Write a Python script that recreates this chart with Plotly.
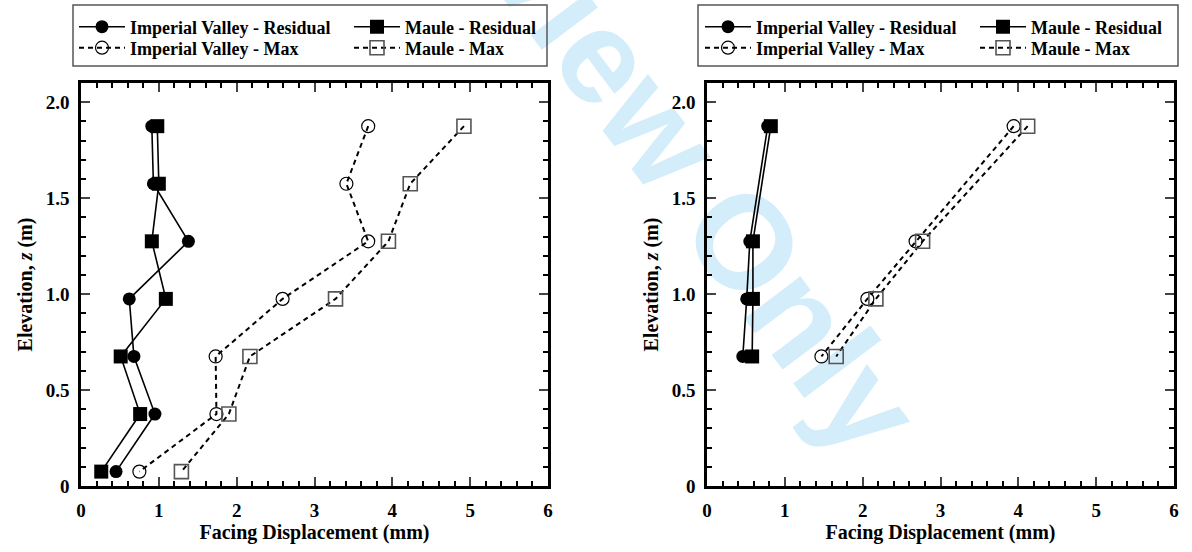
import plotly.graph_objects as go

# ---- data -------------------------------------------------------------
elev_a = [1.875, 1.575, 1.275, 0.975, 0.675, 0.375, 0.075]
iv_res_a = [0.91, 0.93, 1.38, 0.62, 0.68, 0.95, 0.45]
maule_res_a = [0.98, 1.00, 0.91, 1.09, 0.51, 0.76, 0.26]
iv_max_a = [3.69, 3.41, 3.69, 2.59, 1.73, 1.74, 0.75]
maule_max_a = [4.92, 4.23, 3.95, 3.27, 2.17, 1.90, 1.29]

elev_b = [1.875, 1.275, 0.975, 0.675]
iv_res_b = [0.78, 0.55, 0.51, 0.46]
maule_res_b = [0.82, 0.59, 0.59, 0.58]
iv_max_b = [3.94, 2.68, 2.06, 1.47]
maule_max_b = [4.12, 2.77, 2.17, 1.66]

x_ticks = [0, 1, 2, 3, 4, 5, 6]
y_ticks = [0, 0.5, 1.0, 1.5, 2.0]
y_tick_text = ["0", "0.5", "1.0", "1.5", "2.0"]

names = ["Imperial Valley - Residual", "Maule - Residual",
         "Imperial Valley - Max", "Maule - Max"]

# ---- page geometry (px) ----------------------------------------------
W, H = 1192, 552
FONT = "Liberation Serif"


def px_x(v):
    return v / W


def px_y(v):
    return 1 - v / H


styles = [
    dict(mode="lines+markers", line=dict(color="black", width=1.6),
         marker=dict(symbol="circle", size=13, color="black")),
    dict(mode="lines+markers", line=dict(color="black", width=1.6),
         marker=dict(symbol="square", size=14, color="black")),
    dict(mode="lines+markers", line=dict(color="black", width=2, dash="5px,4px"),
         marker=dict(symbol="circle-open", size=13, color="black",
                     line=dict(color="black", width=1.2))),
    dict(mode="lines+markers", line=dict(color="black", width=2, dash="5px,4px"),
         marker=dict(symbol="square-open", size=14, color="#555555",
                     line=dict(color="#555555", width=1.6))),
]

fig = go.Figure()

panels = [
    ("x", "y", elev_a, [iv_res_a, maule_res_a, iv_max_a, maule_max_a]),
    ("x2", "y2", elev_b, [iv_res_b, maule_res_b, iv_max_b, maule_max_b]),
]

legend_id = 0
for xa, ya, elev, series in panels:
    for k, vals in enumerate(series):
        legend_id += 1
        lid = "legend" if legend_id == 1 else f"legend{legend_id}"
        fig.add_trace(go.Scatter(x=vals, y=elev, name=names[k], xaxis=xa, yaxis=ya,
                                 legend=lid, showlegend=True, **styles[k]))

# ---- legends: one entry each, arranged 2x2 inside a framed box ---------
legend_font = dict(family=FONT, size=18, color="black", weight="bold")
col_left = [74, 349]
row_y = [27, 48]
panel_shift = [0, 626]
legend_id = 0
for p in range(2):
    for k in range(4):
        legend_id += 1
        lid = "legend" if legend_id == 1 else f"legend{legend_id}"
        col = k % 2
        row = k // 2
        fig.layout[lid] = dict(
            x=px_x(col_left[col] + panel_shift[p]), y=px_y(row_y[row]),
            xanchor="left", yanchor="middle", xref="paper", yref="paper",
            bgcolor="rgba(0,0,0,0)", borderwidth=0, itemwidth=46,
            font=legend_font, tracegroupgap=0)

shapes = []
for x0, x1 in [(73, 547), (698, 1178)]:
    shapes.append(dict(type="rect", xref="paper", yref="paper",
                       x0=px_x(x0), x1=px_x(x1), y0=px_y(66), y1=px_y(5),
                       line=dict(color="#555555", width=1.5),
                       fillcolor="rgba(0,0,0,0)", layer="above"))

# diagonal watermark behind the data
shapes.append(dict(type="rect", xref="paper", yref="paper",
                   x0=px_x(583), x1=px_x(593), y0=px_y(18), y1=px_y(8),
                   line=dict(width=0), fillcolor="rgba(0,0,0,0)", layer="below",
                   label=dict(text="For Review Only", textangle=53,
                              textposition="middle center",
                              font=dict(family="Liberation Sans, Arial, sans-serif",
                                        size=133, color="#d4edfa", weight="bold"))))
fig.update_layout(shapes=shapes)

# ---- axes ---------------------------------------------------------------
tick_font = dict(family=FONT, size=19, color="black", weight="bold")
title_font = dict(family=FONT, size=20, color="black", weight="bold")

xdomains = [[px_x(81), px_x(548)], [px_x(707), px_x(1174)]]
ydomain = [px_y(486), px_y(83)]

common_x = dict(range=[0, 6], tickvals=x_ticks, ticks="inside", ticklen=9, tickwidth=2,
                showline=True, linewidth=2.5, linecolor="black", mirror="allticks",
                showgrid=False, zeroline=False, tickfont=tick_font, ticklabelstandoff=5,
                minor=dict(dtick=0.2, ticks="inside", ticklen=5, tickwidth=1.5,
                           tickcolor="black", showgrid=False),
                title=dict(text="Facing Displacement (mm)", font=title_font, standoff=4),
                automargin=False)
common_y = dict(range=[0, 2.1], tickvals=y_ticks, ticktext=y_tick_text, ticks="inside",
                ticklen=9, tickwidth=2, showline=True, linewidth=2.5, linecolor="black",
                mirror="allticks", showgrid=False, zeroline=False, tickfont=tick_font,
                ticklabelstandoff=5,
                minor=dict(dtick=0.1, ticks="inside", ticklen=5, tickwidth=1.5,
                           tickcolor="black", showgrid=False),
                title=dict(text="Elevation, <i>z</i> (m)", font=title_font, standoff=8),
                automargin=False, domain=ydomain)

fig.update_layout(
    xaxis=dict(common_x, domain=xdomains[0], anchor="y"),
    yaxis=dict(common_y, anchor="x"),
    xaxis2=dict(common_x, domain=xdomains[1], anchor="y2"),
    yaxis2=dict(common_y, anchor="x2"),
    width=W, height=H,
    margin=dict(l=0, r=0, t=0, b=0),
    paper_bgcolor="white", plot_bgcolor="white",
    font=dict(family=FONT, color="black"),
)

fig.write_html("out.html")
